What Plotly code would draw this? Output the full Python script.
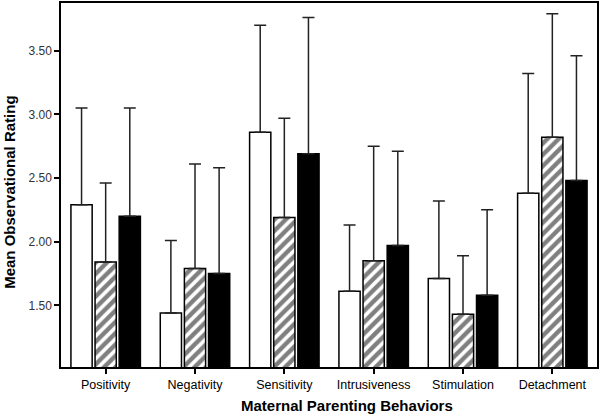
import plotly.graph_objects as go

# maternal parenting behaviours (x categories)
behaviors = ["Positivity", "Negativity", "Sensitivity", "Intrusiveness", "Stimulation", "Detachment"]

# group means
white_means = [2.29, 1.44, 2.86, 1.61, 1.71, 2.38]
hatched_means = [1.84, 1.79, 2.19, 1.85, 1.43, 2.82]
black_means = [2.20, 1.75, 2.69, 1.97, 1.58, 2.48]

# top of each error whisker
white_upper = [3.05, 2.01, 3.70, 2.13, 2.32, 3.32]
hatched_upper = [2.46, 2.61, 2.97, 2.75, 1.89, 3.79]
black_upper = [3.05, 2.58, 3.76, 2.71, 2.25, 3.46]

y_ticks = [1.5, 2.0, 2.5, 3.0, 3.5]

FONT = "Liberation Sans, Arial, sans-serif"


def make_bar(means, upper, name, color, pattern=None):
    err = [u - m for u, m in zip(upper, means)]
    marker = {"color": color, "line": {"color": "black", "width": 1.5}}
    if pattern:
        marker["pattern"] = pattern
    return go.Bar(
        x=behaviors, y=means, name=name, marker=marker,
        error_y={"type": "data", "symmetric": False, "array": err,
                 "arrayminus": [0] * len(err), "color": "#222",
                 "thickness": 1.5, "width": 6},
    )


fig = go.Figure(data=[
    make_bar(white_means, white_upper, "White", "white"),
    make_bar(hatched_means, hatched_upper, "Hatched", "white",
             {"shape": "/", "fgcolor": "black", "bgcolor": "white", "size": 8, "solidity": 0.55}),
    make_bar(black_means, black_upper, "Black", "black"),
])

fig.update_layout(
    width=600, height=416,
    margin={"l": 61, "r": 2, "t": 1, "b": 49},
    paper_bgcolor="white", plot_bgcolor="white",
    barmode="group", bargap=0.19, bargroupgap=0.12,
    showlegend=False,
    font={"family": FONT, "color": "black"},
    annotations=[
        {"text": "<b>Maternal Parenting Behaviors</b>", "xref": "paper", "yref": "paper",
         "x": 0.534, "y": -0.107, "yanchor": "middle", "showarrow": False,
         "font": {"size": 15, "family": FONT}},
        {"text": "<b>Mean Observational Rating</b>", "xref": "paper", "yref": "paper",
         "x": -0.096, "y": 0.48, "textangle": -90, "xanchor": "center", "showarrow": False,
         "font": {"size": 15, "family": FONT}},
    ],
)
fig.update_xaxes(showline=True, linecolor="black", linewidth=1.5, mirror=True,
                 ticks="outside", ticklen=5, tickcolor="black", tickwidth=1.5,
                 tickfont={"size": 12.5}, showgrid=False)
fig.update_yaxes(showline=True, linecolor="black", linewidth=1.5, mirror=True,
                 range=[1.016, 3.874], tickvals=y_ticks, tickformat=".2f",
                 ticks="outside", ticklen=5, tickcolor="black", tickwidth=1.5,
                 tickfont={"size": 12, "color": "#333"}, showgrid=False, zeroline=False)

fig.write_html("out.html", config={"displayModeBar": False},
               post_script="document.body.style.margin='0px';")
